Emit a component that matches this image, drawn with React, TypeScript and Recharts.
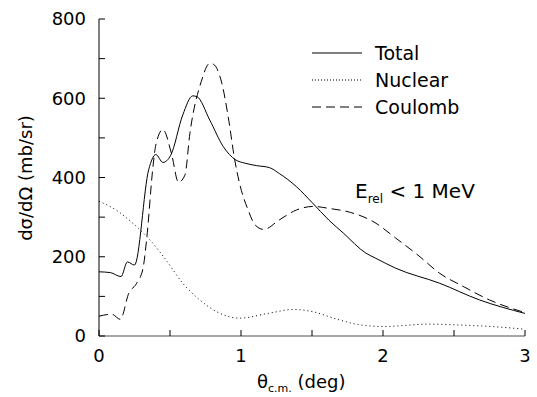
import { LineChart, Line, XAxis, YAxis } from "recharts"

const totalX = [0, 0.08, 0.155, 0.2, 0.25, 0.35, 0.4, 0.45, 0.505, 0.59, 0.66, 0.69, 0.78, 0.875, 0.96, 1.03, 1.11, 1.2, 1.27, 1.39, 1.5, 1.62, 1.72, 1.88, 1.95, 2.09, 2.4, 2.68, 3.0]
const totalY = [162, 160, 150, 187, 179, 420, 458, 438, 456, 558, 606, 604, 545, 478, 445, 436, 430, 425, 410, 377, 337, 292, 260, 209, 196, 171, 133, 91, 57]

const nuclearX = [0, 0.12, 0.24, 0.36, 0.48, 0.59, 0.71, 0.83, 0.99, 1.19, 1.37, 1.51, 1.67, 1.84, 2.0, 2.33, 2.52, 2.84, 3.0]
const nuclearY = [340, 318, 284, 242, 188, 133, 91, 61, 45, 57, 67, 61, 43, 28, 24, 30, 28, 22, 17]

const coulombX = [0, 0.09, 0.15, 0.21, 0.265, 0.31, 0.335, 0.38, 0.4, 0.45, 0.51, 0.56, 0.605, 0.64, 0.72, 0.78, 0.805, 0.865, 0.91, 0.956, 0.99, 1.05, 1.1, 1.16, 1.27, 1.39, 1.51, 1.62, 1.77, 1.93, 2.09, 2.26, 2.4, 2.56, 2.75, 3.0]
const coulombY = [50, 55, 42, 108, 133, 171, 242, 427, 482, 521, 461, 388, 406, 511, 642, 688, 686, 638, 553, 444, 385, 318, 280, 269, 293, 318, 327, 322, 312, 289, 247, 200, 158, 126, 91, 59]

const xTicks = [0, 0.5, 1, 1.5, 2, 2.5, 3]
const yTicks = [0, 100, 200, 300, 400, 500, 600, 700, 800]

const legendItems = [
  { name: "Total", dash: undefined },
  { name: "Nuclear", dash: "1 2" },
  { name: "Coulomb", dash: "9 5" },
]

const toPoints = (xs: number[], ys: number[]) => xs.map((x, i) => ({ x, y: ys[i] }))

const FONT = "'DejaVu Sans', sans-serif"
const TICK_LEN = 6

const BottomTick = ({ x, y, payload }: any) => (
  <g>
    <line x1={x} x2={x} y1={y} y2={y - TICK_LEN} stroke="#000" />
    {Number.isInteger(payload.value) && (
      <text x={x} y={y + 26} textAnchor="middle" fontSize={18} fontFamily={FONT} fill="#000">
        {payload.value}
      </text>
    )}
  </g>
)

const TopTick = ({ x, y }: any) => (
  <line x1={x} x2={x} y1={y} y2={y + TICK_LEN} stroke="#000" />
)

const LeftTick = ({ x, y, payload }: any) => (
  <g>
    <line x1={x} x2={x + TICK_LEN} y1={y} y2={y} stroke="#000" />
    {payload.value % 200 === 0 && (
      <text x={x - 13} y={y} dy="0.36em" textAnchor="end" fontSize={18} fontFamily={FONT} fill="#000">
        {payload.value}
      </text>
    )}
  </g>
)

const RightTick = ({ x, y }: any) => (
  <line x1={x} x2={x - TICK_LEN} y1={y} y2={y} stroke="#000" />
)

export default function App() {
  return (
    <div style={{ position: "absolute", left: 0, top: 0, width: 537, height: 397, background: "#fff" }}>
      <LineChart width={537} height={397} margin={{ top: 19, right: 12, left: 0, bottom: 0 }}>
        <XAxis
          dataKey="x"
          type="number"
          domain={[0, 3]}
          ticks={xTicks}
          interval={0}
          height={61}
          tickSize={0}
          tickMargin={0}
          tick={<BottomTick />}
          tickLine={false}
          axisLine={{ stroke: "#888", strokeWidth: 1.5 }}
          allowDuplicatedCategory={false}
        />
        <XAxis
          xAxisId="top"
          orientation="top"
          type="number"
          domain={[0, 3]}
          ticks={xTicks}
          interval={0}
          height={0}
          tickSize={0}
          tickMargin={0}
          tick={<TopTick />}
          tickLine={false}
          axisLine={{ stroke: "#888" }}
        />
        <YAxis
          type="number"
          domain={[0, 800]}
          ticks={yTicks}
          interval={0}
          width={99}
          tickSize={0}
          tickMargin={0}
          tick={<LeftTick />}
          tickLine={false}
          axisLine={{ stroke: "#000" }}
        />
        <YAxis
          yAxisId="right"
          orientation="right"
          type="number"
          domain={[0, 800]}
          ticks={yTicks}
          interval={0}
          width={0}
          tickSize={0}
          tickMargin={0}
          tick={<RightTick />}
          tickLine={false}
          axisLine={{ stroke: "#888" }}
        />
        <Line
          data={toPoints(totalX, totalY)}
          dataKey="y"
          type="monotone"
          stroke="#000"
          strokeWidth={1}
          dot={false}
          isAnimationActive={false}
        />
        <Line
          data={toPoints(nuclearX, nuclearY)}
          dataKey="y"
          type="monotone"
          stroke="#000"
          strokeWidth={1}
          strokeDasharray="1 3"
          dot={false}
          isAnimationActive={false}
        />
        <Line
          data={toPoints(coulombX, coulombY)}
          dataKey="y"
          type="monotone"
          stroke="#000"
          strokeWidth={1}
          strokeDasharray="9 5"
          dot={false}
          isAnimationActive={false}
        />
      </LineChart>

      <svg
        width={537}
        height={397}
        style={{ position: "absolute", left: 0, top: 0, pointerEvents: "none" }}
        fontFamily={FONT}
      >
        {legendItems.map((item, i) => (
          <g key={item.name}>
            <line x1={312} x2={362} y1={53 + i * 27} y2={53 + i * 27} stroke="#000" strokeDasharray={item.dash} />
            <text x={375} y={53 + i * 27} dy="0.36em" fontSize={19} fill="#000">
              {item.name}
            </text>
          </g>
        ))}
        <text x={355} y={198} fontSize={20} fill="#000">
          E
          <tspan fontSize={12} dy={5}>rel</tspan>
          <tspan dy={-5}> &lt; 1 MeV</tspan>
        </text>
        <text x={257} y={388} fontSize={18} fill="#000">
          θ
          <tspan fontSize={11} dy={4}>c.m.</tspan>
          <tspan dy={-4}> (deg)</tspan>
        </text>
        <text
          x={0}
          y={0}
          fontSize={18}
          fill="#000"
          textAnchor="middle"
          transform="translate(32,178) rotate(-90)"
        >
          dσ/dΩ (mb/sr)
        </text>
      </svg>
    </div>
  )
}
